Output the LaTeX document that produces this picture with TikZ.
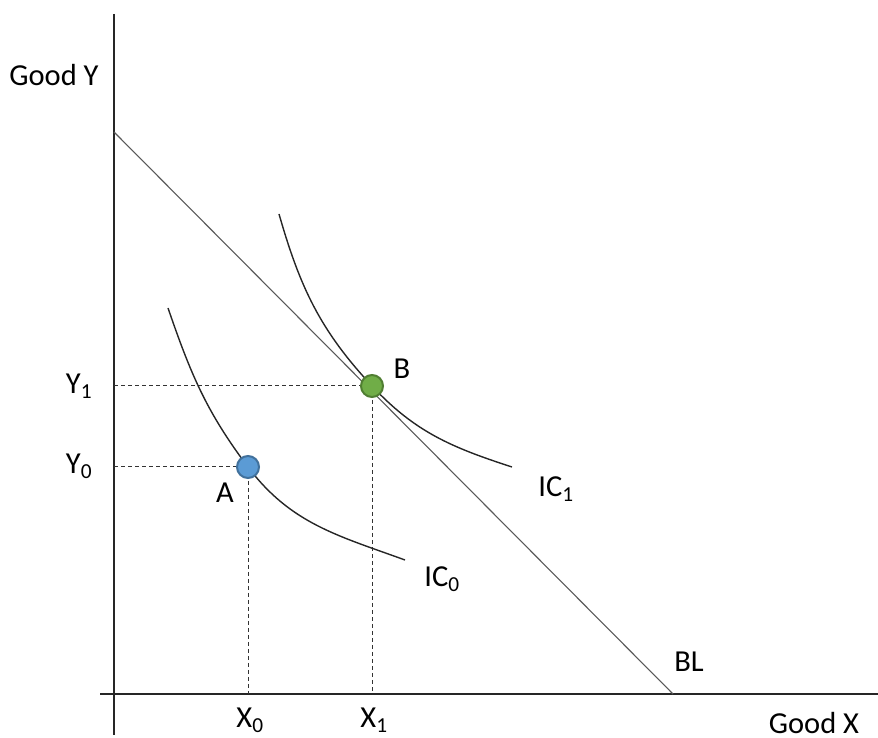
\documentclass[tikz,border=0pt]{standalone}
\usepackage{fontspec}
\setmainfont{Carlito}
\begin{document}
\begin{tikzpicture}[x=1pt,y=1pt,
  lbl/.style={font=\fontsize{30.5}{34}\selectfont, inner sep=0pt},
  axis/.style={line width=1.3pt, draw=black!85},
  curve/.style={line width=1.4pt, draw=black!85},
  budget/.style={line width=1.1pt, draw=black!65},
  guide/.style={line width=1pt, draw=black!80, dash pattern=on 4pt off 3pt},
  ptA/.style={circle, minimum size=22pt, inner sep=0pt, fill={rgb,255:red,91;green,155;blue,213}, draw={rgb,255:red,65;green,113;blue,156}, line width=2pt},
  ptB/.style={circle, minimum size=22pt, inner sep=0pt, fill={rgb,255:red,112;green,173;blue,71}, draw={rgb,255:red,80;green,126;blue,50}, line width=2pt}]
\useasboundingbox (0,0) rectangle (878,738);
% axes
\coordinate (yTop) at (114,724);
\coordinate (yBot) at (114,3);
\coordinate (xLeft) at (100,44);
\coordinate (xRight) at (878,44);
\draw[axis] (yTop) -- (yBot);
\draw[axis] (xLeft) -- (xRight);
% budget line
\coordinate (blTop) at (114,606);
\coordinate (blBot) at (673,44);
\draw[budget] (blTop) -- (blBot);
% key points
\coordinate (Apt) at (248,271);
\coordinate (Bpt) at (372,352);
\coordinate (Ay) at (114,271);
\coordinate (Ax) at (248,44);
\coordinate (By) at (114,352);
\coordinate (Bx) at (372,44);
% guides
\draw[guide] (Ay) -- (Apt);
\draw[guide] (Apt) -- (Ax);
\draw[guide] (By) -- (Bpt);
\draw[guide] (Bpt) -- (Bx);
% indifference curves
\coordinate (ic0s) at (168,430);
\coordinate (ic0e) at (405,178);
\coordinate (ic1s) at (279,524);
\coordinate (ic1e) at (512,271);
\draw[curve] (ic0s) to[out=-71,in=127] (Apt) to[out=-53,in=160] (ic0e);
\draw[curve] (ic1s) to[out=-74,in=133] (Bpt) to[out=-47,in=162] (ic1e);
% dots
\node[ptA] (A) at (Apt) {};
\node[ptB] (B) at (Bpt) {};
% labels
\node[lbl] (goodY) at (54,663) {Good Y};
\node[lbl, anchor=south] (goodX) at (814,4) {Good X};
\node[lbl] (Y1) at (79,352) {Y\textsubscript{1}};
\node[lbl] (Y0) at (79,272) {Y\textsubscript{0}};
\node[lbl] (X0) at (250,18) {X\textsubscript{0}};
\node[lbl] (X1) at (374,18) {X\textsubscript{1}};
\node[lbl] (Alab) at (225,245) {A};
\node[lbl] (Blab) at (402,369) {B};
\node[lbl] (IC1) at (556,249) {IC\textsubscript{1}};
\node[lbl] (IC0) at (442,159) {IC\textsubscript{0}};
\node[lbl] (BL) at (689,76) {BL};
\end{tikzpicture}
\end{document}
